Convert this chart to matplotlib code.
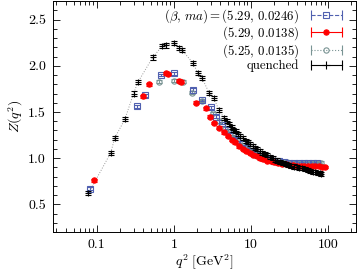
import matplotlib
matplotlib.use("Agg")
import matplotlib.pyplot as plt
from matplotlib.lines import Line2D
from matplotlib.legend_handler import HandlerLine2D, HandlerTuple
from matplotlib.ticker import FixedLocator, LogLocator, MultipleLocator, NullFormatter, FormatStrFormatter

plt.rcParams['font.family'] = ['cmr10']
plt.rcParams['mathtext.fontset'] = 'cm'
plt.rcParams['axes.formatter.use_mathtext'] = True
plt.rcParams['font.size'] = 10

# quenched data
q2_quench = [0.078, 0.152, 0.171, 0.231, 0.30, 0.34, 0.53, 0.70, 0.78, 1.0, 1.16, 1.27,
             1.77, 2.05, 2.31, 2.85, 3.3, 3.84, 4.45, 4.9, 5.2, 5.6, 5.9, 6.4, 6.8, 7.3,
             7.9, 8.6, 9.1, 9.8, 10.5, 11.3, 12.1, 13.0, 14.0, 15.0, 16.2, 17.5, 19.0,
             20.5, 22.0, 24.0, 26.0, 28.0, 30.0, 33.0, 36.0, 39.0, 42.0, 46.0, 50.0,
             54.0, 58.0, 63.0, 68.0, 73.0, 78.0, 82.0]
Z_quench = [0.62, 1.06, 1.22, 1.42, 1.70, 1.82, 2.09, 2.21, 2.22, 2.25, 2.19, 2.17,
            2.03, 1.92, 1.87, 1.71, 1.65, 1.52, 1.44, 1.40, 1.37, 1.34, 1.31, 1.29, 1.26,
            1.24, 1.22, 1.19, 1.18, 1.15, 1.13, 1.11, 1.10, 1.08, 1.06, 1.045, 1.03,
            1.01, 1.0, 0.985, 0.975, 0.96, 0.95, 0.94, 0.93, 0.92, 0.91, 0.90, 0.895,
            0.89, 0.88, 0.87, 0.865, 0.855, 0.85, 0.84, 0.835, 0.825]

# (5.29, 0.0246)
q2_a = [0.081, 0.33, 0.42, 0.68, 1.0, 1.77, 2.3, 3.0, 3.5, 4.2, 5.0, 5.8, 6.6, 7.6,
        8.7, 10.0, 11.5, 13.0, 15.0, 17.5, 20.0, 23.0, 27.0, 31.0, 36.0, 42.0, 48.0,
        55.0, 63.0, 72.0]
Z_a = [0.67, 1.56, 1.68, 1.90, 1.92, 1.74, 1.63, 1.55, 1.45, 1.38, 1.30, 1.24, 1.20,
       1.15, 1.11, 1.08, 1.05, 1.025, 1.005, 0.99, 0.975, 0.965, 0.955, 0.95, 0.95,
       0.945, 0.945, 0.945, 0.945, 0.945]

# (5.29, 0.0138)
q2_b = [0.091, 0.40, 0.47, 0.78, 0.84, 1.16, 1.25, 1.93, 2.6, 2.9, 3.3, 3.8, 4.45,
        5.0, 5.6, 6.2, 7.0, 7.8, 8.6, 9.6, 10.6, 11.8, 13.0, 14.5, 16.0, 18.0, 20.0,
        22.5, 25.0, 28.0, 31.0, 35.0, 39.0, 44.0, 49.0, 55.0, 61.0, 68.0, 76.0, 84.0, 92.0]
Z_b = [0.76, 1.67, 1.80, 1.92, 1.91, 1.84, 1.83, 1.60, 1.54, 1.45, 1.38, 1.33, 1.28,
       1.24, 1.20, 1.17, 1.13, 1.10, 1.08, 1.06, 1.04, 1.02, 1.00, 0.99, 0.975, 0.965,
       0.955, 0.945, 0.94, 0.935, 0.93, 0.925, 0.92, 0.92, 0.918, 0.917, 0.916, 0.915,
       0.915, 0.91, 0.905]

# (5.25, 0.0135)
q2_c = [0.64, 1.0, 1.3, 1.71, 2.3, 3.2, 3.9, 4.6, 5.3, 6.0, 6.9, 7.8, 8.8, 10.0,
        11.2, 12.6, 14.0, 16.0, 18.0, 20.0, 23.0, 26.0, 29.0, 33.0, 37.0, 42.0, 47.0,
        53.0, 60.0, 67.0, 75.0, 81.0]
Z_c = [1.83, 1.84, 1.83, 1.71, 1.62, 1.49, 1.40, 1.32, 1.27, 1.22, 1.17, 1.13, 1.10,
       1.07, 1.05, 1.03, 1.01, 0.995, 0.985, 0.975, 0.965, 0.96, 0.955, 0.95, 0.95,
       0.95, 0.95, 0.95, 0.95, 0.95, 0.95, 0.95]

err_quench = 0.022
err_dyn = 0.015

labels = [r'$(\beta,\, ma) = (5.29,\, 0.0246)$', r'$(5.29,\, 0.0138)$',
          r'$(5.25,\, 0.0135)$', 'quenched']
col_a = '#5060b0'
col_b = '#ff0000'
col_c = '#7a9494'

fig = plt.figure(figsize=(3.6, 2.78), dpi=100)
ax = fig.add_axes([0.147, 0.165, 0.842, 0.831])

ax.plot(q2_quench, Z_quench, ls=':', color='#999999', lw=0.7, zorder=1)
ax.errorbar(q2_quench, Z_quench, yerr=err_quench, fmt='+', color='black', ms=5,
            mew=0.8, elinewidth=0.8, capsize=2.2, capthick=0.8, zorder=4)
ax.errorbar(q2_c, Z_c, yerr=err_dyn, fmt='o', color=col_c, mfc='none', ms=3.8,
            mew=0.8, elinewidth=0.8, capsize=2.2, capthick=0.8, zorder=2)
ax.errorbar(q2_a, Z_a, yerr=err_dyn, fmt='s', color=col_a, mfc='none', ms=3.8,
            mew=0.8, elinewidth=0.8, capsize=2.2, capthick=0.8, zorder=2)
ax.errorbar(q2_b, Z_b, yerr=err_dyn, fmt='o', color=col_b, ms=3.8,
            mew=0.8, elinewidth=0.8, capsize=2.2, capthick=0.8, zorder=3)

ax.set_xscale('log')
ax.set_xlim(0.027, 230)
ax.set_ylim(0.2, 2.7)
ax.xaxis.set_major_locator(FixedLocator([0.1, 1, 10, 100]))
ax.set_xticklabels(['0.1', '1', '10', '100'])
ax.xaxis.set_minor_locator(LogLocator(base=10, subs=range(2, 10)))
ax.xaxis.set_minor_formatter(NullFormatter())
ax.yaxis.set_major_locator(MultipleLocator(0.5))
ax.yaxis.set_minor_locator(MultipleLocator(0.1))
ax.yaxis.set_major_formatter(FormatStrFormatter('%.1f'))
ax.tick_params(which='both', direction='in', top=True, right=True, labelsize=10)
ax.tick_params(which='major', length=5, width=0.6)
ax.tick_params(which='minor', length=3, width=0.6)
ax.tick_params(axis='x', pad=5)
ax.tick_params(axis='y', pad=5)
for s in ax.spines.values():
    s.set_linewidth(0.7)

ax.set_xlabel(r'$q^2\ [\mathrm{GeV}^2]$', fontsize=10, labelpad=1)
ax.set_ylabel(r'$Z(q^2)$', fontsize=10, labelpad=2)

# gnuplot style keys: line with end caps and the point in the middle
handles = []
hmap = {}
for c, ls, m, mfc in [(col_a, '--', 's', 'none'), (col_b, '-', 'o', col_b),
                      (col_c, ':', 'o', 'none'), ('black', '-', '+', 'black')]:
    caps = Line2D([], [], color=c, ls=ls, lw=0.8, marker='|', ms=7, mew=0.8)
    pt = Line2D([], [], color=c, ls='none', marker=m, mfc=mfc,
                ms=3.8 if m != '+' else 6, mew=0.8)
    hmap[caps] = HandlerLine2D(numpoints=2)
    hmap[pt] = HandlerLine2D(numpoints=1)
    handles.append((caps, pt))
hmap[tuple] = HandlerTuple(ndivide=1, pad=0)
leg = ax.legend(handles, labels, loc='upper right', bbox_to_anchor=(0.965, 0.975),
                frameon=False, markerfirst=False, handlelength=3.0, handletextpad=0.6,
                labelspacing=-0.02, borderpad=0, borderaxespad=0, fontsize=9.3,
                handler_map=hmap)

fig.savefig('out.png', dpi=100)
